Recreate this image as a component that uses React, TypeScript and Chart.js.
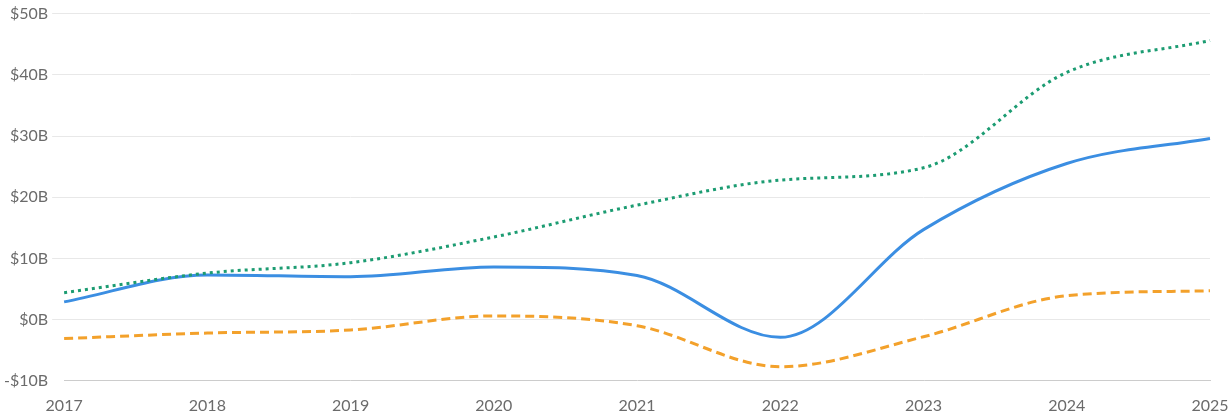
import React, { useEffect, useRef } from "react";
import { Chart, registerables } from "chart.js";

Chart.register(...registerables);

const years = ["2017", "2018", "2019", "2020", "2021", "2022", "2023", "2024", "2025"];
const greenSeries = [4.4, 7.6, 9.3, 13.5, 18.7, 22.8, 24.8, 40.4, 45.6];
const blueSeries = [2.9, 7.3, 7.0, 8.6, 7.2, -2.9, 14.7, 25.5, 29.6];
const orangeSeries = [-3.1, -2.2, -1.7, 0.6, -1.0, -7.7, -2.8, 3.9, 4.7];

const yMin = -10;
const yMax = 50;
const yStep = 10;

export default function App() {
  const canvasRef = useRef<HTMLCanvasElement | null>(null);

  useEffect(() => {
    document.body.style.margin = "0";
    const canvas = canvasRef.current;
    if (!canvas) return;
    const chart = new Chart(canvas, {
      type: "line",
      data: {
        labels: years,
        datasets: [
          {
            label: "Green",
            data: greenSeries,
            borderColor: "#1c9c72",
            borderWidth: 3,
            borderDash: [3, 4],
            pointRadius: 0,
            fill: false,
            cubicInterpolationMode: "monotone",
          },
          {
            label: "Blue",
            data: blueSeries,
            borderColor: "#3b8ee2",
            borderWidth: 3,
            pointRadius: 0,
            fill: false,
            cubicInterpolationMode: "monotone",
          },
          {
            label: "Orange",
            data: orangeSeries,
            borderColor: "#f3a12b",
            borderWidth: 3,
            borderDash: [9, 5],
            pointRadius: 0,
            fill: false,
            cubicInterpolationMode: "monotone",
          },
        ],
      },
      options: {
        animation: false,
        responsive: false,
        maintainAspectRatio: false,
        layout: { padding: { top: 4, right: 0, left: 0, bottom: -11 } },
        plugins: {
          legend: { display: false },
          tooltip: { enabled: false },
        },
        scales: {
          x: {
            grid: { display: false, drawTicks: false },
            border: { display: true, color: "#cccccc", width: 1 },
            ticks: {
              color: "#6b6b6b",
              font: { family: "Lato", size: 16 },
              padding: 15,
              maxRotation: 0,
            },
            afterFit: (scale: any) => {
              scale.paddingRight = 21;
            },
          },
          y: {
            min: yMin,
            max: yMax,
            border: { display: false },
            grid: {
              color: (ctx: any) => (ctx.tick && ctx.tick.value === yMin ? "rgba(0,0,0,0)" : "#e8e8e8"),
              tickLength: 12,
              lineWidth: 1,
            },
            ticks: {
              stepSize: yStep,
              color: "#6b6b6b",
              font: { family: "Lato", size: 16 },
              padding: 4,
              callback: (v: any) => (v < 0 ? "-$" + Math.abs(v) + "B" : "$" + v + "B"),
            },
          },
        },
      },
    });
    return () => chart.destroy();
  }, []);

  return (
    <div style={{ width: 1231, height: 419 }}>
      <canvas ref={canvasRef} width={1231} height={419} style={{ display: "block" }} />
    </div>
  );
}
